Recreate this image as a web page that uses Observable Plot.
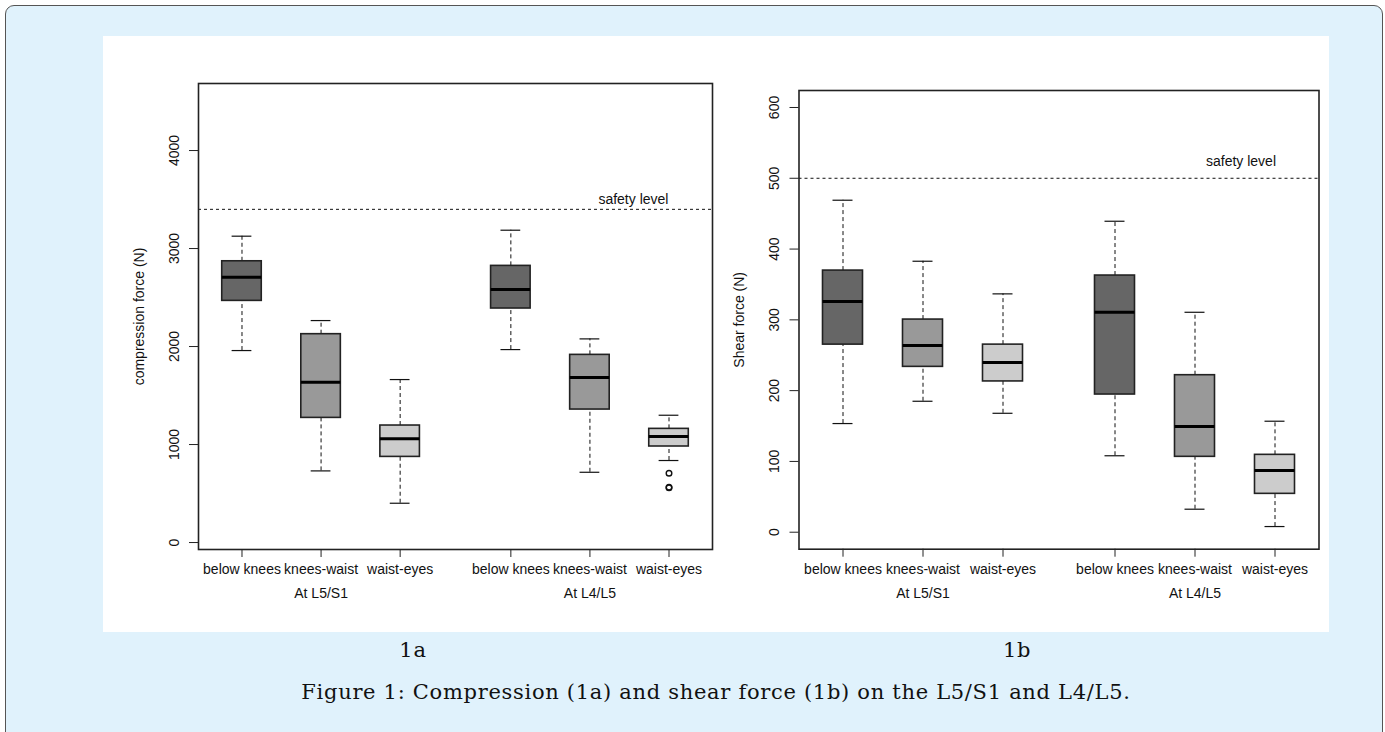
<!DOCTYPE html>
<html><head><meta charset="utf-8">
<script src="https://cdn.jsdelivr.net/npm/d3@7"></script>
<script src="https://cdn.jsdelivr.net/npm/@observablehq/plot@0.6"></script>
<style>
body{margin:0;background:#fff;width:1385px;height:732px;overflow:hidden;position:relative;font-family:"Liberation Sans",Arial,sans-serif;}
#outer{position:absolute;left:5px;top:5px;width:1378px;height:745px;border:1.5px solid #555;border-radius:9px;background:#e0f2fc;box-sizing:border-box}
#panel{position:absolute;left:103px;top:36px;width:1226px;height:596px;background:#fff}
.chart{position:absolute;top:36px}
.lab{position:absolute;font-family:"DejaVu Serif",serif;font-size:21px;color:#111;transform:translate(-50%,-50%);white-space:nowrap;letter-spacing:0.7px}
</style></head><body>
<div id="outer"></div><div id="panel"></div>
<div id="c1" class="chart" style="left:103px"></div>
<div id="c2" class="chart" style="left:720px"></div>
<div class="lab" style="left:413px;top:650px">1a</div>
<div class="lab" style="left:1017px;top:650px">1b</div>
<div class="lab" style="left:716px;top:692px">Figure 1: Compression (1a) and shear force (1b) on the L5/S1 and L4/L5.</div>
<script>
// categories and layout positions on the x axis (two groups of three)
const categories = ["below knees","knees-waist","waist-eyes","below knees","knees-waist","waist-eyes"];
const positions = [1,2,3,4.4,5.4,6.4];
const groups = ["At L5/S1","At L4/L5"];
const groupPositions = [2,5.4];
const boxFills = ["#666666","#999999","#cccccc","#666666","#999999","#cccccc"];

// 1a: compression force (N)
const compMin = [1959,731,401,1969,717,837];
const compQ1  = [2466,1272,874,2388,1357,980];
const compMed = [2707,1636,1058,2582,1684,1082];
const compQ3  = [2870,2126,1194,2823,1915,1160];
const compMax = [3126,2265,1663,3187,2078,1299];
const compOutlierBox = [5,5,5];
const compOutlierValue = [707,565,558];
const compTicks = [0,1000,2000,3000,4000];
const compSafety = 3400;

// 1b: shear force (N)
const shearMin = [153.5,185,168,108,32.5,8];
const shearQ1  = [265,233.6,213,194.5,106.5,54.2];
const shearMed = [326,263.7,239.7,310.7,149.3,87.1];
const shearQ3  = [369.6,300.4,265,362.6,221.8,109.3];
const shearMax = [469,382.8,336.7,439.3,310.7,156.8];
const shearOutlierBox = [];
const shearOutlierValue = [];
const shearTicks = [0,100,200,300,400,500,600];
const shearSafety = 500;

function boxChart(o) {
  const rows = categories.map((c,i)=>({c, x: positions[i], min:o.min[i], q1:o.q1[i], med:o.med[i], q3:o.q3[i], max:o.max[i], fill: boxFills[i]}));
  const outs = o.outBox.map((b,i)=>({x: positions[b], v: o.outVal[i]}));
  const dash = "4,3";
  return Plot.plot({
    width: o.width, height: o.height,
    marginLeft: o.ml, marginTop: o.mt, marginRight: o.mr, marginBottom: o.mb,
    style: {fontFamily: "'Liberation Sans', Arial, sans-serif", fontSize: "14px", background: "transparent", color: "#111", overflow: "visible"},
    x: {domain: [0.45, 6.95], axis: null},
    y: {domain: o.yDomain, axis: null},
    color: {type: "identity"},
    marks: [
      Plot.ruleY([o.safety], {stroke: "#111", strokeDasharray: "3,3"}),
      Plot.text(["safety level"], {x: o.safetyLabelX, y: o.safetyLabelY, text: d => d, fill: "#111", fontSize: 14}),
      Plot.ruleX(rows, {x: "x", y1: "q3", y2: "max", stroke: "#111", strokeDasharray: dash}),
      Plot.ruleX(rows, {x: "x", y1: "min", y2: "q1", stroke: "#111", strokeDasharray: dash}),
      Plot.ruleY(rows, {y: "max", x1: d => d.x - 0.125, x2: d => d.x + 0.125, stroke: "#111", strokeWidth: 1.2}),
      Plot.ruleY(rows, {y: "min", x1: d => d.x - 0.125, x2: d => d.x + 0.125, stroke: "#111", strokeWidth: 1.2}),
      Plot.rect(rows, {x1: d => d.x - 0.25, x2: d => d.x + 0.25, y1: "q1", y2: "q3", fill: "fill", stroke: "#222", strokeWidth: 1.6}),
      Plot.ruleY(rows, {y: "med", x1: d => d.x - 0.25, x2: d => d.x + 0.25, stroke: "#000", strokeWidth: 3}),
      Plot.dot(outs, {x: "x", y: "v", r: 2.8, stroke: "#111", strokeWidth: 1.4}),
      Plot.frame({stroke: "#222", strokeWidth: 1.6}),
      Plot.axisY({ticks: o.yTicks, tickRotate: -90, tickSize: 9, tickPadding: 11, tickFormat: d => String(d), label: o.yLabel, labelAnchor: "center", labelArrow: "none", labelOffset: o.labelOffset, stroke: "#222"}),
      Plot.axisX({ticks: positions, tickFormat: d => categories[positions.indexOf(d)], tickSize: 8, tickPadding: 7, label: null, stroke: "#222"}),
      Plot.axisX({ticks: groupPositions, tickFormat: d => groups[groupPositions.indexOf(d)], tickSize: 0, tickPadding: 39, label: null})
    ]
  });
}

document.getElementById("c1").append(boxChart({
  min: compMin, q1: compQ1, med: compMed, q3: compQ3, max: compMax,
  outBox: compOutlierBox, outVal: compOutlierValue,
  yDomain: [-71, 4684], yTicks: compTicks, yLabel: "compression force (N)",
  safety: compSafety, safetyLabelX: 5.95, safetyLabelY: 3505,
  width: 629, height: 583, ml: 95, mt: 47, mr: 20, mb: 70, labelOffset: 64
}));
document.getElementById("c2").append(boxChart({
  min: shearMin, q1: shearQ1, med: shearMed, q3: shearQ3, max: shearMax,
  outBox: shearOutlierBox, outVal: shearOutlierValue,
  yDomain: [-24, 624], yTicks: shearTicks, yLabel: "Shear force (N)",
  safety: shearSafety, safetyLabelX: 5.975, safetyLabelY: 524,
  width: 620, height: 583, ml: 78.5, mt: 54, mr: 21.5, mb: 70.3, labelOffset: 65
}));
</script>
</body></html>
